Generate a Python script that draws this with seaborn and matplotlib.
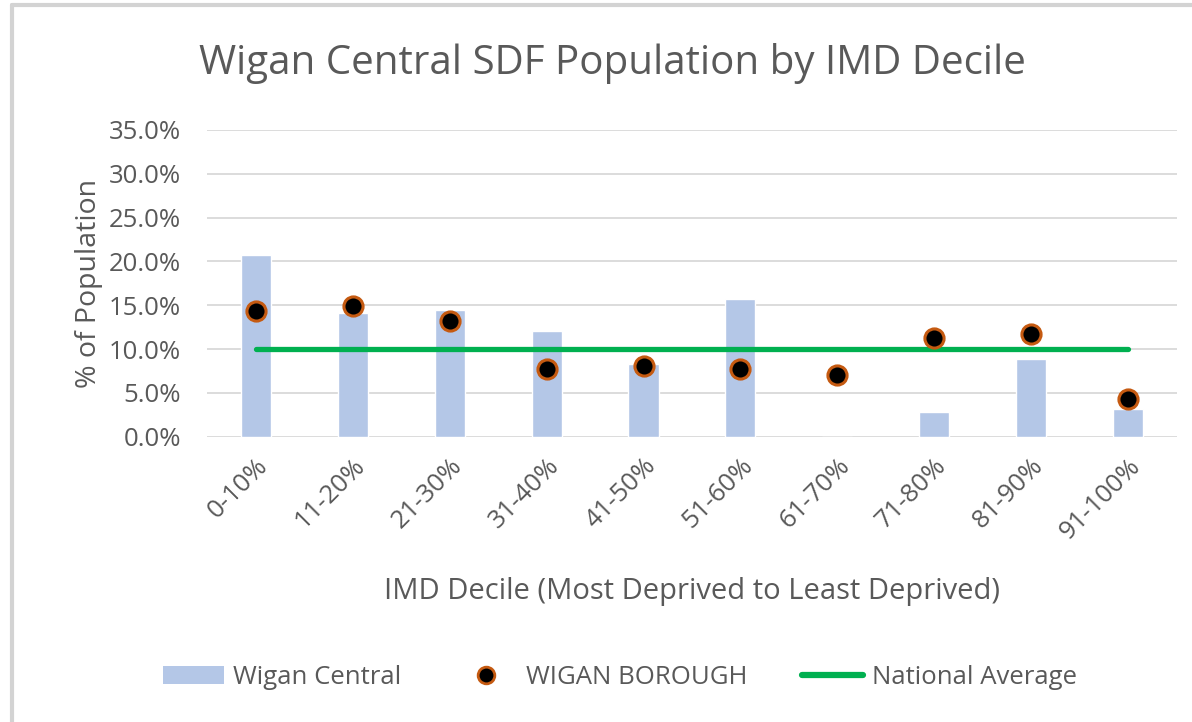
import numpy as np
import pandas as pd
import seaborn as sns
import matplotlib.pyplot as plt
from matplotlib.lines import Line2D
from matplotlib.patches import Patch

# data (percent of population)
deciles = ['0-10%', '11-20%', '21-30%', '31-40%', '41-50%',
           '51-60%', '61-70%', '71-80%', '81-90%', '91-100%']
wigan_central = [20.7, 14.1, 14.5, 12.1, 8.3, 15.7, 0.0, 2.8, 8.9, 3.2]
wigan_borough = [14.3, 14.9, 13.2, 7.7, 8.1, 7.7, 7.1, 11.3, 11.7, 4.3]
national_avg = [10.0, 10.0, 10.0, 10.0, 10.0, 10.0, 10.0, 10.0, 10.0, 10.0]

df = pd.DataFrame({'decile': deciles,
                   'central': wigan_central,
                   'borough': wigan_borough,
                   'national': national_avg})
df['pos'] = np.arange(len(df))

sns.set_style('white')
plt.rcParams['font.family'] = ['Open Sans', 'DejaVu Sans']
grey = '#595959'

fig = plt.figure(figsize=(11.92, 7.22), dpi=100)
ax = fig.add_axes([0.174, 0.395, 0.813, 0.425])

# bars
sns.barplot(data=df, x='decile', y='central', color='#B4C7E7', saturation=1,
            width=0.31, ax=ax, zorder=2)
# national average line
sns.lineplot(data=df, x='pos', y='national', color='#00B050', lw=3.8,
             solid_capstyle='round', ax=ax, zorder=3)
# borough dots
sns.scatterplot(data=df, x='pos', y='borough', s=190, color='black',
                edgecolor='#C55A11', linewidth=2.2, ax=ax, zorder=5)

ax.set_xlim(-0.5, 9.5)
ax.set_ylim(0, 35)
ax.set_yticks(np.arange(0, 36, 5))
ax.set_yticklabels([f'{v:.1f}%' for v in np.arange(0, 36, 5)])
ax.set_xticks(df['pos'])
ax.set_xticklabels(deciles, rotation=45, ha='right', rotation_mode='anchor')
ax.yaxis.grid(True, color='#D9D9D9', lw=1.3, zorder=0)
ax.set_axisbelow(True)
for s in ax.spines.values():
    s.set_visible(False)
ax.tick_params(axis='both', length=0, colors=grey, labelsize=18.5)
ax.tick_params(axis='x', pad=12)
ax.tick_params(axis='y', pad=19)

ax.set_xlabel('IMD Decile (Most Deprived to Least Deprived)', fontsize=21,
              color=grey, labelpad=24)
ax.set_ylabel('% of Population', fontsize=20.5, color=grey, labelpad=4)

fig.text(0.514, 0.912, 'Wigan Central SDF Population by IMD Decile',
         ha='center', va='center', fontsize=29, color=grey)

handles = [Patch(facecolor='#B4C7E7', edgecolor='none'),
           Line2D([], [], ls='none', marker='o', markersize=12,
                  markerfacecolor='black', markeredgecolor='#C55A11',
                  markeredgewidth=2),
           Line2D([], [], color='#00B050', lw=4.5, solid_capstyle='round')]
labels = ['Wigan Central', 'WIGAN BOROUGH', 'National Average']
fig.legend(handles, labels, loc='center', bbox_to_anchor=(0.52, 0.062),
           ncol=3, frameon=False, fontsize=18.5, labelcolor=grey,
           columnspacing=2.1, handlelength=2.4, handletextpad=0.35)

# frame edges of the original chart area
fig.add_artist(Line2D([12 / 1192, 12 / 1192], [0, 1 - 5 / 722],
                      transform=fig.transFigure, color='#D3D3D3', lw=3))
fig.add_artist(Line2D([12 / 1192, 1], [1 - 5 / 722, 1 - 5 / 722],
                      transform=fig.transFigure, color='#D3D3D3', lw=3))

fig.savefig('out.png', dpi=100)
